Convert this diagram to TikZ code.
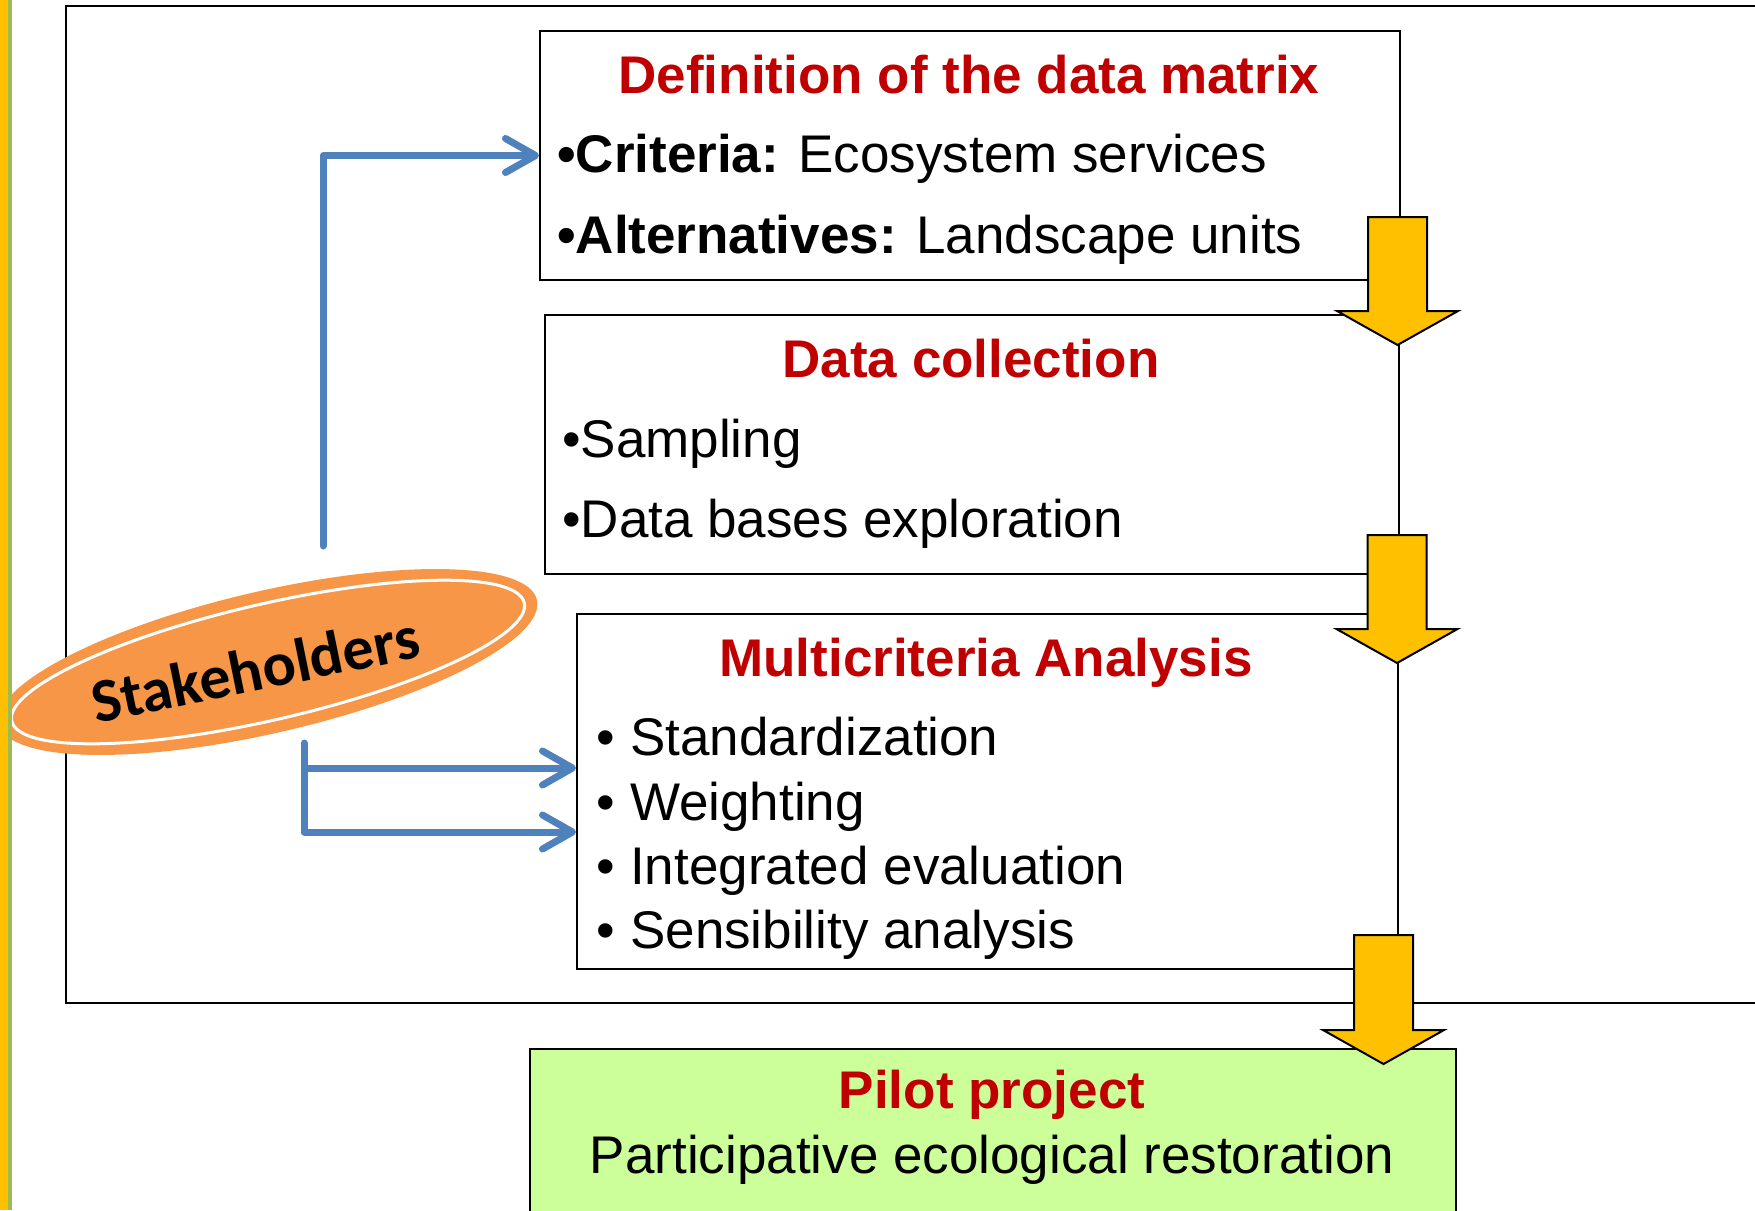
\documentclass[tikz,border=0pt]{standalone}
\usepackage{fontspec}
\setmainfont{Liberation Sans}
\newfontfamily\stakefont{Carlito}
\usetikzlibrary{arrows.meta,shapes.geometric}
\definecolor{titlered}{HTML}{C00000}
\definecolor{flowblue}{HTML}{4F81BD}
\definecolor{blockyellow}{HTML}{FFC000}
\definecolor{stakeorange}{HTML}{F79646}
\definecolor{pilotgreen}{HTML}{CCFF99}
\definecolor{bargreen}{HTML}{9BBB59}
\tikzset{
  stepbox/.style={draw=black, line width=2pt, fill=white, rectangle, inner sep=0pt, anchor=north west},
  heading/.style={text=titlered, font=\fontsize{53}{60}\selectfont\bfseries, inner sep=0pt, anchor=base},
  item/.style={font=\fontsize{53}{60}\selectfont, inner sep=0pt, anchor=base west},
  flow/.style={draw=flowblue, line width=7pt, line cap=round, line join=round,
    -{Straight Barb[length=30pt,width=34pt,line cap=round,line join=round]}},
  yblock/.style={fill=blockyellow, draw=black, line width=2pt, line join=miter}
}
% downward block arrow: centre x, top y, tip y
\newcommand\blockdown[3]{%
  \filldraw[yblock] ({#1-29.5},#2) -- ({#1+29.5},#2) -- ({#1+29.5},{#3-34}) --
    ({#1+60.5},{#3-34}) -- (#1,#3) -- ({#1-60.5},{#3-34}) -- ({#1-29.5},{#3-34}) -- cycle;}
\begin{document}
\begin{tikzpicture}[x=1pt,y=-1pt]
\useasboundingbox (0,0) rectangle (1755,1210);
\clip (0,0) rectangle (1755,1210);
\fill[white] (0,0) rectangle (1755,1210);

% frame round the assessment steps
\draw[line width=2pt] (1800,1003) -- (66,1003) -- (66,6) -- (1800,6);

% step boxes
\node[stepbox, minimum width=860pt, minimum height=249pt] (define) at (539,30) {};
\node[stepbox, minimum width=854pt, minimum height=259pt] (collect) at (544,314) {};
\node[stepbox, minimum width=821pt, minimum height=355pt] (mca) at (576,613) {};
\node[stepbox, fill=pilotgreen, minimum width=926pt, minimum height=300pt] (pilot) at (529,1048) {};

% texts of the steps
\node[heading] (t1) at (969,93) {Definition of the data matrix};
\node[item] (t1a) at (557,172) {\textbf{•Criteria:} Ecosystem services};
\node[item] (t1b) at (557,253) {\textbf{•Alternatives:} Landscape units};

\node[heading] (t2) at (971,377) {Data collection};
\node[item] (t2a) at (562,457) {•Sampling};
\node[item] (t2b) at (562,537) {•Data bases exploration};

\node[heading] (t3) at (986,676) {Multicriteria Analysis};
\foreach \yy/\txt [count=\i] in {755/Standardization, 820/Weighting, 884/Integrated evaluation, 948/Sensibility analysis}{
  \node[item] (b\i) at (596,\yy) {•};
  \node[item] (t3\i) at (630,\yy) {\txt};
}

\node[heading] (t4) at (992,1108) {Pilot project};
\node[item, anchor=base] (t4a) at (992,1173) {Participative ecological restoration};

% block arrows between the steps
\blockdown{1397.5}{217}{345}
\blockdown{1397}{535}{663}
\blockdown{1383.5}{935}{1064}

% stakeholders
\node[ellipse, fill=stakeorange, minimum width=552pt, minimum height=142pt, rotate=13, inner sep=0pt] (stake) at (268,662) {};
\node[ellipse, draw=white, line width=3pt, minimum width=526pt, minimum height=116pt, rotate=13, inner sep=0pt] (stakering) at (268,662) {};
\node[rotate=11.5, inner sep=0pt, font=\stakefont\bfseries\fontsize{62}{62}\selectfont] (staketxt) at (255,669) {Stakeholders};

% participation links
\coordinate (s1) at (323,546);
\draw[flow] (s1) |- (define.west);
\coordinate (s2) at (304,743);
\coordinate (m1) at (304,768);
\coordinate (m2) at (304,832);
\draw[flow] (s2) -- (m1) -- (m1 -| mca.west);
\draw[flow] (m1) -- (m2) -- (m2 -| mca.west);

% side bar
\fill[blockyellow] (0,0) rectangle (7.5,1210);
\fill[bargreen] (7.5,0) rectangle (12.3,1210);
\end{tikzpicture}
\end{document}
